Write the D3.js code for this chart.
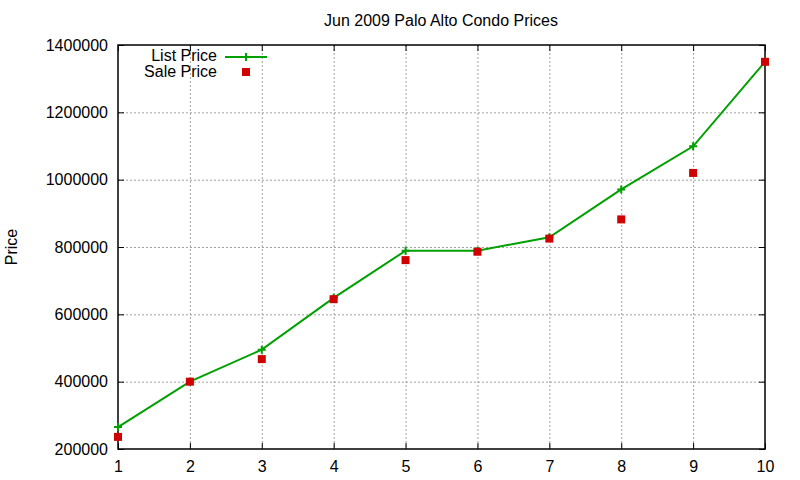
<!DOCTYPE html>
<html lang="en">
<head>
<meta charset="utf-8">
<style>
  body { margin: 0; background: #fff; }
  svg text { font-family: "Liberation Sans", Arial, sans-serif; fill: #000; }
</style>
</head>
<body>
<svg id="chart" width="800" height="480"></svg>
<script src="https://d3js.org/d3.v7.min.js"></script>
<script>
// chart data
var units = [1, 2, 3, 4, 5, 6, 7, 8, 9, 10];
var listPrice = [265000, 400000, 495000, 649000, 789000, 789000, 829000, 971000, 1099000, 1350000];
var salePrice = [236000, 400000, 467000, 645000, 761000, 786000, 825000, 882000, 1020000, 1350000];
var yTicks = [200000, 400000, 600000, 800000, 1000000, 1200000, 1400000];
var title = "Jun 2009 Palo Alto Condo Prices";

var plotLeft = 118, plotRight = 765, plotTop = 45, plotBottom = 449;
var svg = d3.select('#chart');

var x = d3.scaleLinear().domain([1, 10]).range([plotLeft, plotRight]);
var y = d3.scaleLinear().domain([200000, 1400000]).range([plotBottom, plotTop]);

// grid
var grid = svg.append('g').attr('stroke', '#a0a0a0').attr('stroke-width', 1).attr('stroke-dasharray', '2,2');
grid.selectAll('.gx').data(units.slice(1, -1)).enter().append('line')
    .attr('x1', d => x(d) + 0.5).attr('x2', d => x(d) + 0.5)
    .attr('y1', plotTop).attr('y2', plotBottom);
grid.selectAll('.gy').data(yTicks.slice(1, -1)).enter().append('line')
    .attr('x1', plotLeft).attr('x2', plotRight)
    .attr('y1', d => y(d) + 0.5).attr('y2', d => y(d) + 0.5);

// axes with inward ticks (mirrored, gnuplot style)
function styleAxis(g) {
    g.select('.domain').remove();
    g.attr('font-size', null).attr('font-family', null);
    g.selectAll('.tick line').attr('stroke', '#000');
    g.selectAll('.tick text').style('font-size', '16px');
}
svg.append('g').attr('transform', 'translate(0,' + plotBottom + ')')
    .call(d3.axisBottom(x).tickValues(units).tickSizeInner(-6).tickSizeOuter(0).tickPadding(12).tickFormat(d3.format('d')))
    .call(styleAxis);
svg.append('g').attr('transform', 'translate(0,' + plotTop + ')')
    .call(d3.axisTop(x).tickValues(units).tickSizeInner(-6).tickSizeOuter(0).tickFormat(''))
    .call(styleAxis);
svg.append('g').attr('transform', 'translate(' + plotLeft + ',0)')
    .call(d3.axisLeft(y).tickValues(yTicks).tickSizeInner(-6).tickSizeOuter(0).tickPadding(10).tickFormat(d3.format('d')))
    .call(styleAxis);
svg.append('g').attr('transform', 'translate(' + plotRight + ',0)')
    .call(d3.axisRight(y).tickValues(yTicks).tickSizeInner(-6).tickSizeOuter(0).tickFormat(''))
    .call(styleAxis);

svg.append('rect').attr('x', plotLeft).attr('y', plotTop).attr('width', plotRight - plotLeft).attr('height', plotBottom - plotTop)
    .attr('fill', 'none').attr('stroke', '#000').attr('stroke-width', 1.5);

// list price line
var line = d3.line().x((d, i) => x(units[i])).y(d => y(d));
svg.append('path').datum(listPrice).attr('d', line)
    .attr('fill', 'none').attr('stroke', '#00a000').attr('stroke-width', 2);
function plus(g, cx, cy) {
    g.append('path').attr('d', 'M' + (cx - 4) + ',' + cy + 'H' + (cx + 4) + 'M' + cx + ',' + (cy - 4) + 'V' + (cy + 4))
        .attr('stroke', '#00a000').attr('stroke-width', 2).attr('fill', 'none');
}
var marks = svg.append('g');
listPrice.forEach((d, i) => plus(marks, x(units[i]), y(d)));

// sale price squares
svg.append('g').selectAll('rect').data(salePrice).enter().append('rect')
    .attr('x', (d, i) => x(units[i]) - 4).attr('y', d => y(d) - 4)
    .attr('width', 8).attr('height', 8).attr('fill', '#d00000');

// legend
var lg = svg.append('g');
lg.append('text').attr('x', 217).attr('y', 61).attr('text-anchor', 'end').style('font-size', '16px').text('List Price');
lg.append('line').attr('x1', 225).attr('x2', 267).attr('y1', 57).attr('y2', 57).attr('stroke', '#00a000').attr('stroke-width', 2);
plus(lg, 246, 57);
lg.append('text').attr('x', 217).attr('y', 77).attr('text-anchor', 'end').style('font-size', '16px').text('Sale Price');
lg.append('rect').attr('x', 242).attr('y', 68).attr('width', 8).attr('height', 8).attr('fill', '#d00000');

// title and axis label
svg.append('text').attr('x', 441).attr('y', 26).attr('text-anchor', 'middle').style('font-size', '16px').text(title);
svg.append('text').attr('transform', 'translate(17,247) rotate(-90)').attr('text-anchor', 'middle').style('font-size', '16px').text('Price');
</script>
</body>
</html>
